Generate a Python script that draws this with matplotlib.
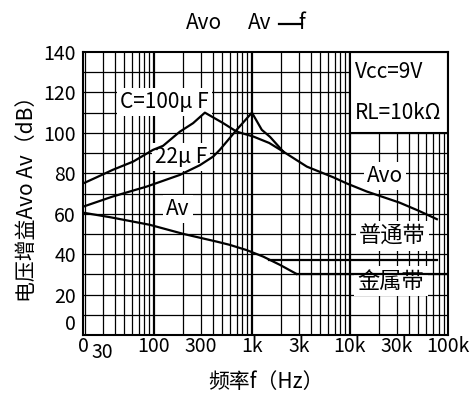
import matplotlib
matplotlib.use('Agg')
import matplotlib.pyplot as plt
import matplotlib.transforms as mtransforms
from matplotlib.patches import Rectangle
from matplotlib.lines import Line2D

plt.rcParams['font.family'] = ['Noto Sans CJK SC', 'DejaVu Sans']

# Avo with C=100uF (rising part up to the merge point)
f_100u = [19, 26, 38, 61.5, 98, 124, 184, 251, 331, 509, 698, 1030, 1500, 2090]
db_100u = [75, 78, 81.7, 85.8, 91.6, 93.6, 100.6, 104.8, 110, 104.8, 100.6, 98.2, 95, 90.7]

# Avo with C=22uF
f_22u = [19, 38, 84, 184, 294, 403, 470, 698, 1000, 1260, 1530, 2090]
db_22u = [63.5, 68.5, 73.4, 79.2, 84, 88.3, 91.6, 101.5, 110, 101.5, 98, 90.7]

# common Avo tail
f_avo = [2090, 3630, 6770, 9250, 14800, 32000, 50000, 77000]
db_avo = [90.7, 83.3, 78, 75, 71, 65.5, 61.5, 57.3]

# Av
f_av = [19, 35.5, 91, 200, 437, 593, 883, 1300, 1930, 2850]
db_av = [60.5, 58.3, 54.5, 50, 46.2, 44.6, 42, 38.8, 34.7, 30.2]

# tape branches
f_normal = [1500, 77000]
db_normal = [37, 37]
f_metal = [2850, 100000]
db_metal = [30.2, 30.2]

xtick_pos = [19, 30, 100, 300, 1000, 3000, 10000, 30000, 100000]
xtick_lab = ['0', '30', '100', '300', '1k', '3k', '10k', '30k', '100k']
ytick_pos = [0, 20, 40, 60, 80, 100, 120, 140]

fig = plt.figure(figsize=(4.72, 4.01), dpi=100)
ax = fig.add_axes([83/472, 1-335/401, 365/472, 283/401])
ax.set_xscale('log')
ax.set_xlim(18.9, 100000)
ax.set_ylim(0, 140)

# log grid
for dec in [10, 100, 1000, 10000]:
    for k in range(1, 10):
        f = dec * k
        if f < 19:
            continue
        lw = 1.6 if k == 1 else 0.9
        ax.axvline(f, color='black', lw=lw, zorder=1)
for y in range(10, 140, 10):
    ax.axhline(y, color='black', lw=0.9, zorder=1)

# parameter box
ax.add_patch(Rectangle((10000, 100), 90000, 40, fc='white', ec='black', lw=1.5, zorder=2.5))
ax.text(11200, 130, 'Vcc=9V', fontsize=15, va='center', ha='left', zorder=3)
ax.text(11200, 110, 'RL=10kΩ', fontsize=15, va='center', ha='left', zorder=3)

box = dict(boxstyle='square,pad=0.15', fc='white', ec='none')
ax.text(129, 115.3, 'C=100μ F', fontsize=15, ha='center', va='center', bbox=box, zorder=3)
ax.text(189, 88, '22μ F', fontsize=15, ha='center', va='center', bbox=box, zorder=3)
ax.text(176, 62.4, 'Av', fontsize=15, ha='center', va='center', bbox=box, zorder=3)
ax.text(22700, 78.5, 'Avo', fontsize=15, ha='center', va='center', bbox=box, zorder=3)
ax.text(27200, 49, '普通带', fontsize=16, ha='center', va='center', bbox=box, zorder=3)
ax.text(26200, 26.7, '金属带', fontsize=16, ha='center', va='center', bbox=box, zorder=3)

lw = 1.6
ax.plot(f_100u, db_100u, color='black', lw=lw, zorder=4)
ax.plot(f_22u, db_22u, color='black', lw=lw, zorder=4)
ax.plot(f_avo, db_avo, color='black', lw=lw, zorder=4)
ax.plot(f_av, db_av, color='black', lw=lw, zorder=4)
ax.plot(f_normal, db_normal, color='black', lw=lw, zorder=4)
ax.plot(f_metal, db_metal, color='black', lw=lw, zorder=4)

ax.set_xticks(xtick_pos)
ax.set_xticklabels(xtick_lab)
ax.xaxis.set_minor_locator(matplotlib.ticker.NullLocator())
ax.set_yticks(ytick_pos)
ax.tick_params(axis='both', length=0, labelsize=14)
ax.tick_params(axis='x', pad=1)
ax.tick_params(axis='y', pad=5)

# the "30" label sits a little lower, the y "0" sits on the axis
fig.canvas.draw()
lab30 = ax.get_xticklabels()[1]
lab30.set_transform(lab30.get_transform() + mtransforms.ScaledTranslation(0, -4/72, fig.dpi_scale_trans))
ax.get_yticklabels()[0].set_va('bottom')

for s in ax.spines.values():
    s.set_linewidth(1.5)
    s.set_zorder(5)

ax.set_xlabel('频率f（Hz）', fontsize=15, labelpad=6)
ax.set_ylabel('电压增益Avo Av（dB）', fontsize=15, labelpad=4)

# title with the dash over the f
ty = 1 - 29/401
fig.text(204/472, ty, 'Avo', fontsize=15, ha='center', va='baseline')
fig.text(260/472, ty, 'Av', fontsize=15, ha='center', va='baseline')
fig.text(302/472, ty, 'f', fontsize=15, ha='center', va='baseline')
fig.add_artist(Line2D([279/472, 302/472], [1-24/401, 1-24/401], color='black', lw=1.6))

fig.savefig('out.png', dpi=100)
